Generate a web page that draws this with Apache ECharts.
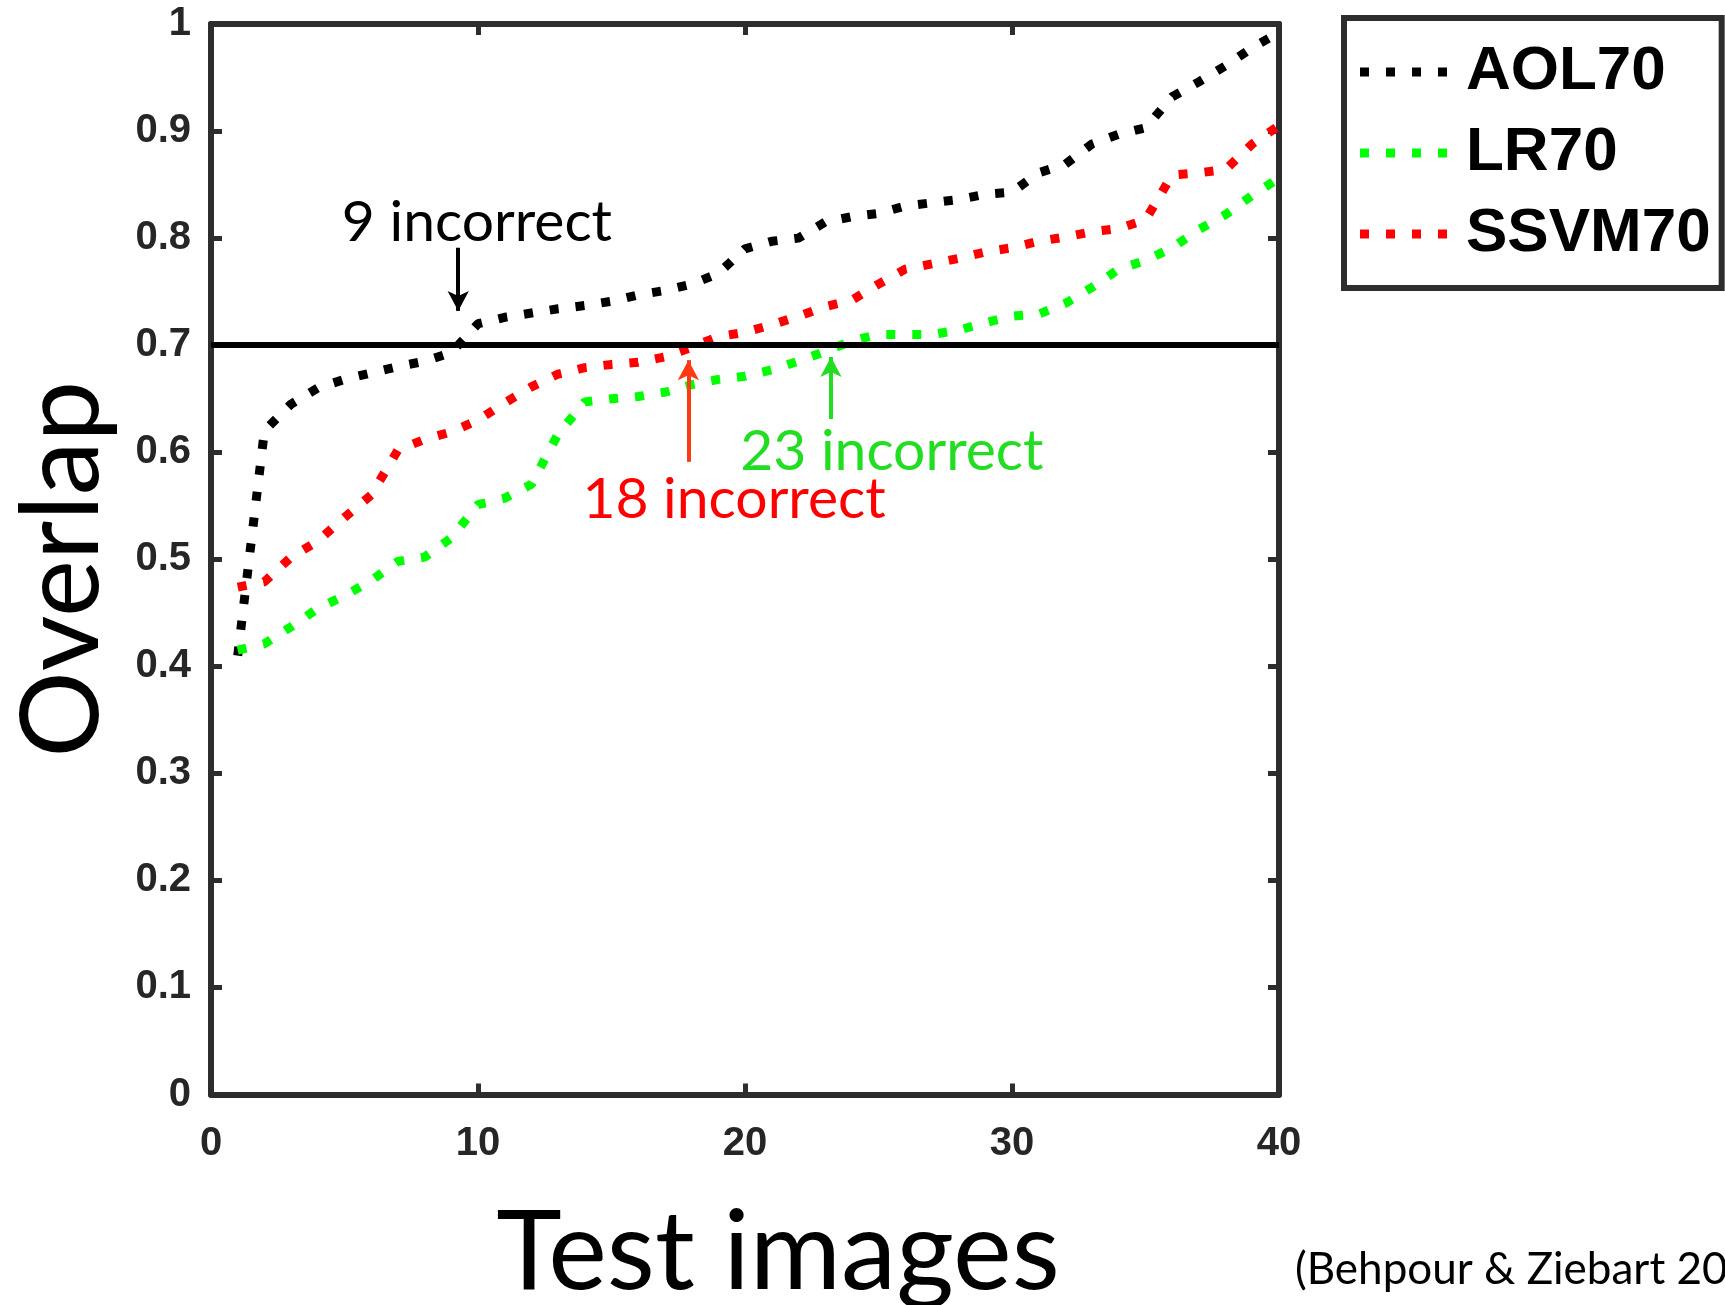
<!DOCTYPE html>
<html>
<head>
<meta charset="utf-8">
<title>Overlap vs test images</title>
<script src="https://cdn.jsdelivr.net/npm/echarts@6/dist/echarts.min.js"></script>
<style>
  html, body { margin: 0; padding: 0; background: #fff; }
  #chart { width: 1725px; height: 1305px; }
</style>
</head>
<body>
<div id="chart"></div>
<script>
// test image index (x) and overlap per method (y)
const testImages = [1, 2, 3, 4, 5, 6, 7, 8, 9, 10, 11, 12, 13, 14, 15, 16, 17, 18, 19, 20,
  21, 22, 23, 24, 25, 26, 27, 28, 29, 30, 31, 32, 33, 34, 35, 36, 37, 38, 39, 40]
const aol70 = [0.41, 0.62, 0.645, 0.66, 0.668, 0.674, 0.68, 0.685, 0.693, 0.72,
  0.726, 0.73, 0.734, 0.737, 0.741, 0.747, 0.751, 0.757, 0.767, 0.79,
  0.797, 0.8, 0.815, 0.82, 0.823, 0.83, 0.833, 0.836, 0.841, 0.843,
  0.861, 0.869, 0.888, 0.897, 0.903, 0.932, 0.946, 0.961, 0.978, 0.992]
const lr70 = [0.415, 0.421, 0.437, 0.454, 0.466, 0.48, 0.498, 0.502, 0.52, 0.551,
  0.557, 0.57, 0.617, 0.647, 0.65, 0.652, 0.656, 0.663, 0.668, 0.671,
  0.677, 0.685, 0.694, 0.704, 0.71, 0.71, 0.71, 0.714, 0.721, 0.727,
  0.729, 0.739, 0.754, 0.771, 0.779, 0.791, 0.808, 0.822, 0.84, 0.856]
const ssvm70 = [0.474, 0.479, 0.502, 0.517, 0.539, 0.56, 0.602, 0.612, 0.619, 0.63,
  0.646, 0.661, 0.673, 0.679, 0.682, 0.684, 0.689, 0.698, 0.708, 0.712,
  0.719, 0.727, 0.736, 0.742, 0.757, 0.771, 0.776, 0.781, 0.787, 0.791,
  0.797, 0.801, 0.806, 0.809, 0.817, 0.859, 0.861, 0.864, 0.888, 0.905]
const seriesNames = ['AOL70', 'LR70', 'SSVM70']
const threshold = 0.7

// annotations (data coords): label text, label position, arrow start/end
const notes = [
  { text: '9 incorrect', at: [9.96, 0.8145], from: [9.26, 0.791], to: [9.26, 0.732], color: '#000000', arrow: '#000000' },
  { text: '18 incorrect', at: [19.59, 0.5556], from: [17.88, 0.591], to: [17.88, 0.686], color: '#ff0000', arrow: '#ff3a12' },
  { text: '23 incorrect', at: [25.5, 0.601], from: [23.22, 0.631], to: [23.22, 0.689], color: '#22dd22', arrow: '#22dd22' }
]

const frameColor = '#2d2d2d'
const tickFont = { fontFamily: 'Liberation Sans', fontWeight: 'bold', fontSize: 40, color: '#262626' }
// legend sample: four square dots like the plotted line
const dotIcon = 'path://M0,0h9v9h-9z M26,0h9v9h-9z M52,0h9v9h-9z M78,0h9v9h-9z'

function pairs(ys) {
  return testImages.map((x, i) => [x, ys[i]])
}

function dotted(name, values, color) {
  return {
    name: name,
    type: 'line',
    data: pairs(values),
    symbol: 'none',
    smooth: false,
    lineStyle: { color: color, width: 9, type: [9, 17], cap: 'butt' },
    itemStyle: { color: color },
    animation: false
  }
}

const myChart = echarts.init(document.getElementById('chart'))

const option = {
  backgroundColor: '#ffffff',
  animation: false,
  grid: { left: 211, right: 446, top: 24, bottom: 210.5, containLabel: false, outerBoundsMode: 'none' },
  legend: {
    data: seriesNames.map(n => ({ name: n, icon: dotIcon })),
    orient: 'vertical',
    left: 1344,
    top: 18,
    itemWidth: 87,
    itemHeight: 9,
    itemGap: 19,
    padding: [23, 11, 23, 16],
    borderColor: frameColor,
    borderWidth: 6,
    backgroundColor: '#ffffff',
    textStyle: { fontFamily: 'Liberation Sans', fontWeight: 'bold', fontSize: 62, color: '#000', padding: [0, 0, 0, 14] }
  },
  xAxis: [
    {
      type: 'value',
      min: 0,
      max: 40,
      interval: 10,
      position: 'bottom',
      name: 'Test images',
      nameLocation: 'middle',
      nameGap: 103,
      nameTextStyle: { fontFamily: 'Lato', fontSize: 111, color: '#000', padding: [0, 0, 0, 66] },
      axisLine: { show: true, onZero: false, lineStyle: { color: frameColor, width: 6 } },
      axisTick: { show: true, inside: true, length: 11, lineStyle: { color: frameColor, width: 5 } },
      axisLabel: Object.assign({ margin: 29 }, tickFont),
      splitLine: { show: false }
    },
    {
      type: 'value',
      min: 0,
      max: 40,
      interval: 10,
      position: 'top',
      axisLine: { show: true, onZero: false, lineStyle: { color: frameColor, width: 6 } },
      axisTick: { show: true, inside: true, length: 11, lineStyle: { color: frameColor, width: 5 } },
      axisLabel: { show: false },
      splitLine: { show: false }
    }
  ],
  yAxis: [
    {
      type: 'value',
      min: 0,
      max: 1,
      interval: 0.1,
      position: 'left',
      name: 'Overlap',
      nameLocation: 'middle',
      nameGap: 94,
      nameTextStyle: { fontFamily: 'Lato', fontSize: 108, color: '#000', padding: [0, 20, 0, 0] },
      axisLine: { show: true, onZero: false, lineStyle: { color: frameColor, width: 6 } },
      axisTick: { show: true, inside: true, length: 11, lineStyle: { color: frameColor, width: 5 } },
      axisLabel: Object.assign({ margin: 20 }, tickFont),
      splitLine: { show: false }
    },
    {
      type: 'value',
      min: 0,
      max: 1,
      interval: 0.1,
      position: 'right',
      axisLine: { show: true, onZero: false, lineStyle: { color: frameColor, width: 6 } },
      axisTick: { show: true, inside: true, length: 11, lineStyle: { color: frameColor, width: 5 } },
      axisLabel: { show: false },
      splitLine: { show: false }
    }
  ],
  graphic: [
    {
      type: 'text',
      left: 1295,
      top: 1248,
      style: { text: '(Behpour & Ziebart 20', fontFamily: 'Lato', fontSize: 44, fill: '#000' }
    }
  ],
  series: [
    dotted(seriesNames[0], aol70, '#000000'),
    dotted(seriesNames[1], lr70, '#00ff00'),
    dotted(seriesNames[2], ssvm70, '#ff0000'),
    {
      // threshold line, arrows and notes on top of the curves
      name: 'annotations',
      type: 'line',
      data: [],
      z: 10,
      silent: true,
      animation: false,
      markLine: {
        silent: true,
        animation: false,
        label: { show: false },
        data: [
          [
            { coord: [0, threshold], symbol: 'none', lineStyle: { color: '#000', width: 6, type: 'solid' } },
            { coord: [40, threshold], symbol: 'none' }
          ]
        ].concat(notes.map(n => [
          { coord: n.from, symbol: 'none', lineStyle: { color: n.arrow, width: 4, type: 'solid' } },
          { coord: n.to, symbol: 'arrow', symbolSize: [16, 20], itemStyle: { color: n.arrow } }
        ]))
      },
      markPoint: {
        silent: true,
        animation: false,
        symbol: 'rect',
        symbolSize: 1,
        itemStyle: { color: 'rgba(0,0,0,0)' },
        data: notes.map(n => ({
          coord: n.at,
          label: {
            show: true,
            position: 'inside',
            formatter: n.text,
            fontFamily: 'Lato',
            fontSize: 57,
            color: n.color
          }
        }))
      }
    }
  ]
}

myChart.setOption(option)
</script>
</body>
</html>
